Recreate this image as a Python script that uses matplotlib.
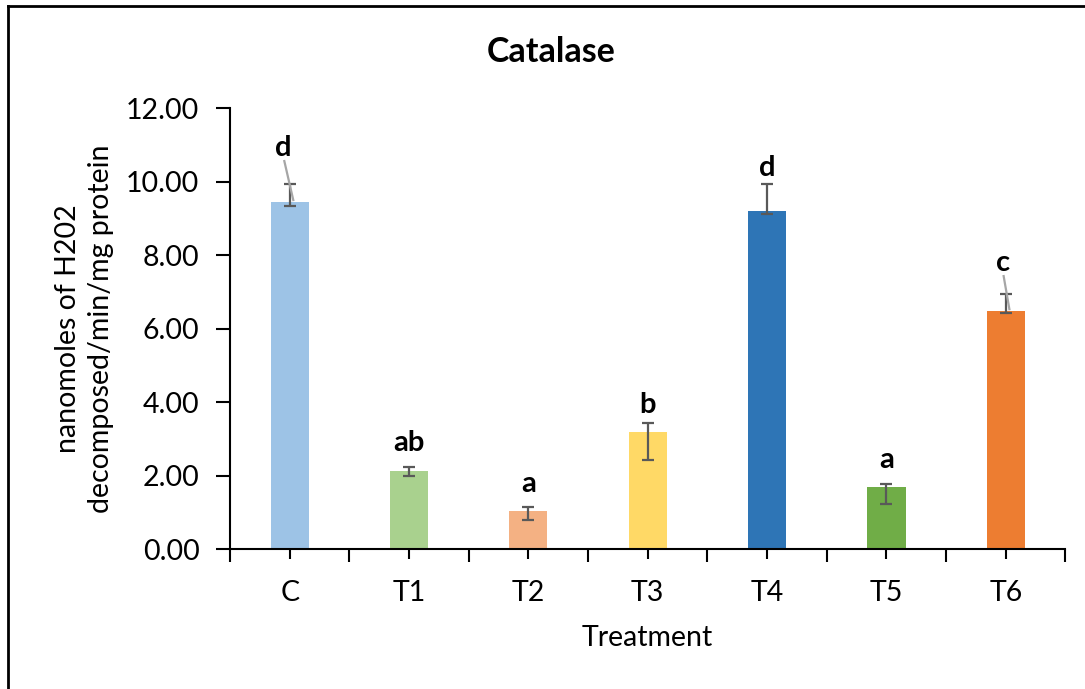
import numpy as np
import matplotlib.pyplot as plt
from matplotlib.lines import Line2D
from matplotlib.ticker import FixedLocator

plt.rcParams['font.family'] = ['Lato', 'DejaVu Sans']

# --- données ---
treatments = ['C', 'T1', 'T2', 'T3', 'T4', 'T5', 'T6']
catalase = [9.45, 2.12, 1.03, 3.18, 9.20, 1.69, 6.48]
err_low = [0.12, 0.12, 0.24, 0.76, 0.08, 0.46, 0.05]
err_high = [0.48, 0.12, 0.13, 0.26, 0.74, 0.08, 0.45]
letters = ['d', 'ab', 'a', 'b', 'd', 'a', 'c']
colors = ['#9DC3E6', '#A9D18E', '#F4B183', '#FFD966', '#2E75B6', '#70AD47', '#ED7D31']

# placement des lettres au-dessus de la barre d'erreur
label_gap = [0.98, 0.64, 0.61, 0.48, 0.43, 0.65, 0.85]
label_dx = [-0.05, 0, 0, 0, 0, 0, -0.02]
leader = [True, False, False, False, False, False, True]

fig = plt.figure(figsize=(10.85, 6.89), dpi=100)
ax = fig.add_axes([0.212, 0.203, 0.770, 0.640])

x = np.arange(len(treatments))
ax.bar(x, catalase, width=0.32, color=colors, zorder=2)
ax.errorbar(x, catalase, yerr=[err_low, err_high], fmt='none',
            ecolor='#595959', elinewidth=1.6, capsize=4.5, capthick=1.6, zorder=3)

for i in range(len(x)):
    top = catalase[i] + err_high[i]
    ly = top + label_gap[i]
    ax.text(x[i] + label_dx[i], ly, letters[i], ha='center', va='center',
            fontsize=21, fontweight='bold', color='black', zorder=4)
    if leader[i]:
        ax.plot([x[i] + label_dx[i] * 0.9, x[i] + 0.03],
                [ly - 0.35, catalase[i] + 0.05],
                color='#A6A6A6', lw=1.6, zorder=4)

ax.set_xlim(-0.5, len(x) - 0.5)
ax.set_ylim(0, 12)
ax.set_yticks(np.arange(0, 13, 2))
ax.set_yticklabels([f'{v:.2f}' for v in np.arange(0, 13, 2)], fontsize=20.5)

# ticks aux centres (étiquettes) et aux limites des catégories
ax.set_xticks(x)
ax.set_xticklabels(treatments, fontsize=20.5)
ax.xaxis.set_minor_locator(FixedLocator(np.arange(-0.5, len(x), 1.0)))
ax.tick_params(axis='x', which='major', length=7, width=1.5, direction='out', pad=15)
ax.tick_params(axis='x', which='minor', length=9, width=1.5, direction='out')
ax.tick_params(axis='y', which='major', length=10, width=1.5, direction='out', pad=12)

for s in ['top', 'right']:
    ax.spines[s].set_visible(False)
ax.spines['left'].set_linewidth(1.5)
ax.spines['bottom'].set_linewidth(1.5)

ax.set_xlabel('Treatment', fontsize=20.5, labelpad=14)
ax.set_ylabel('nanomoles of H202\ndecomposed/min/mg protein', fontsize=20.5,
              labelpad=9, linespacing=1.3)
fig.text(0.508, 0.925, 'Catalase', ha='center', va='center',
         fontsize=24.5, fontweight='bold')

# cadre de la figure (gauche et haut)
fig.add_artist(Line2D([0.0075, 0.0075], [0, 0.991], transform=fig.transFigure,
                      color='black', lw=2))
fig.add_artist(Line2D([0.0075, 1.0], [0.991, 0.991], transform=fig.transFigure,
                      color='black', lw=2))

fig.savefig('out.png', dpi=100)
